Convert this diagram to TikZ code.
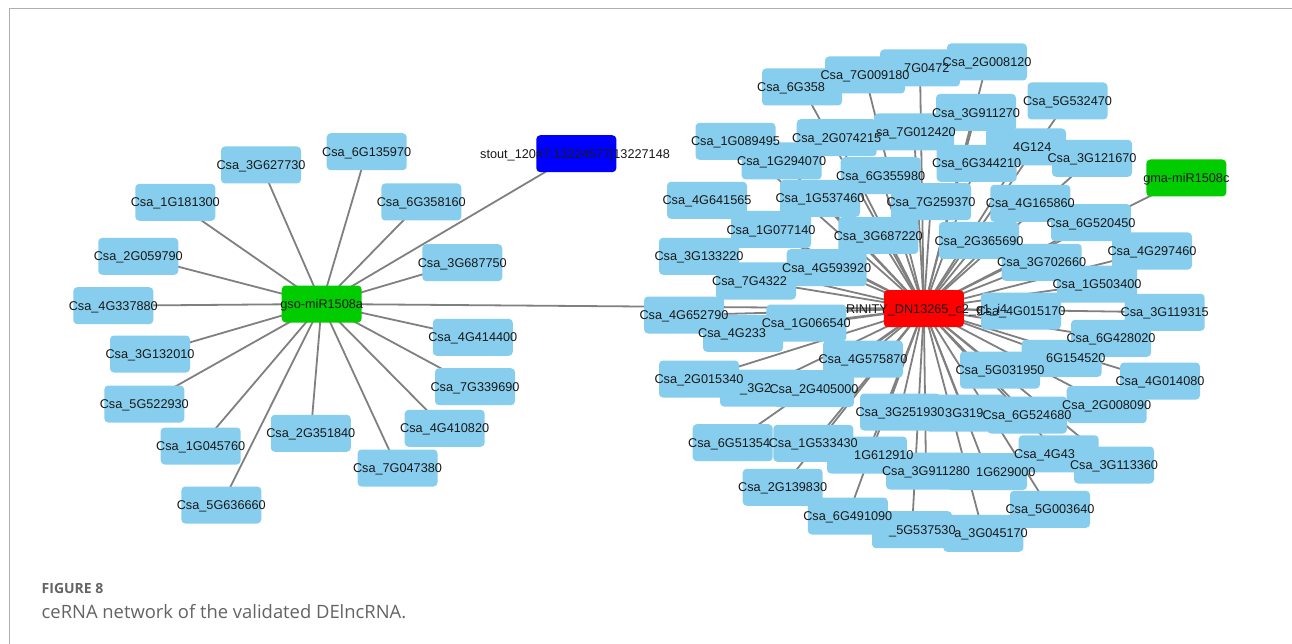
\documentclass[tikz,border=0pt]{standalone}
\usepackage{fontspec}
\setmainfont{Liberation Sans}
\newfontfamily\capfont{Open Sans}
\definecolor{leafblue}{RGB}{135,206,238}
\definecolor{hubgreen}{RGB}{0,204,0}
\definecolor{edgegray}{RGB}{128,128,128}
\definecolor{framegray}{RGB}{175,175,175}
\definecolor{capgray}{RGB}{100,100,100}
\pgfdeclarelayer{edges}
\pgfdeclarelayer{labels}
\pgfsetlayers{edges,main,labels}
\tikzset{
  leaf/.style={fill=leafblue, rounded corners=4pt, minimum width=80pt, minimum height=37pt, inner sep=0pt},
  hubg/.style={leaf, fill=hubgreen},
  hubr/.style={leaf, fill=red},
  hubb/.style={leaf, fill=blue},
  lbl/.style={font=\fontsize{12.7}{14}\selectfont, text=black!90, inner sep=0pt, text height=9.1pt, text depth=0pt},
  edge/.style={draw=edgegray, line width=1.8pt},
}
\newcommand\nodeF[5][leaf]{\node[#1] (#2) at (#3,#4) {};\begin{pgfonlayer}{labels}\node[lbl] (#2t) at (#2.center) {#5};\end{pgfonlayer}}
\newcommand\nodeW[6][leaf]{\node[#1] (#2) at (#3,#4) {};\begin{pgfonlayer}{labels}\node[lbl,anchor=west] (#2t) at (#5,#4) {#6};\end{pgfonlayer}}
\newcommand\nodeE[6][leaf]{\node[#1] (#2) at (#3,#4) {};\begin{pgfonlayer}{labels}\node[lbl,anchor=east] (#2t) at (#5,#4) {#6};\end{pgfonlayer}}
\begin{document}
\begin{tikzpicture}[x=1pt,y=-1pt]
\useasboundingbox (0,0) rectangle (1292,644);
\begin{pgfonlayer}{edges}
\fill[white] (0,0) rectangle (1292,644);
\end{pgfonlayer}
\draw[framegray, line width=1.5pt] (9.5,644) -- (9.5,8.5) -- (1292,8.5);

% left cluster
\nodeF[hubg]{gso}{321.7}{304}{gso-miR1508a}
\nodeF{l3G627730}{261}{165}{Csa\_3G627730}
\nodeF{l6G135970}{366.7}{151.7}{Csa\_6G135970}
\nodeF{l1G181300}{175.3}{202.3}{Csa\_1G181300}
\nodeF{l2G059790}{138.3}{256.3}{Csa\_2G059790}
\nodeF{l4G337880}{113.3}{305.7}{Csa\_4G337880}
\nodeF{l6G358160}{421.3}{202}{Csa\_6G358160}
\nodeF{l3G687750}{462.3}{262.7}{Csa\_3G687750}
\nodeW[hubb]{stout}{576.3}{153.7}{480}{stout\_120\#7:13224577|13227148}
\nodeF{l4G414400}{472.8}{337.3}{Csa\_4G414400}
\nodeF{l7G339690}{475}{386.7}{Csa\_7G339690}
\nodeF{l4G410820}{444.7}{428.3}{Csa\_4G410820}
\nodeF{l7G047380}{397.5}{468}{Csa\_7G047380}
\nodeF{l2G351840}{310.8}{433.3}{Csa\_2G351840}
\nodeF{l5G636660}{221.3}{505}{Csa\_5G636660}
\nodeF{l1G045760}{200.7}{446}{Csa\_1G045760}
\nodeF{l5G522930}{144.3}{404}{Csa\_5G522930}
\nodeF{l3G132010}{150}{354}{Csa\_3G132010}

% right cluster
\nodeW[hubr]{trin}{923.8}{308.7}{846}{RINITY\_DN13265\_c2\_g1\_i4}
\nodeF[hubg]{gma}{1186.3}{178}{gma-miR1508c}
\nodeW{r6G358}{802}{87}{757}{Csa\_6G358}
\nodeF{r7G009180}{865}{75}{Csa\_7G009180}
\nodeW{r7G0472}{920}{68}{904}{7G0472}
\nodeF{r2G008120}{987}{62}{Csa\_2G008120}
\nodeF{r3G911270}{976}{112.5}{Csa\_3G911270}
\nodeF{r5G532470}{1067.5}{101}{Csa\_5G532470}
\nodeF{r1G089495}{735.5}{141.3}{Csa\_1G089495}
\nodeF{r2G074215}{836.7}{137.7}{Csa\_2G074215}
\nodeE{r7G012420}{914}{132}{956}{sa\_7G012420}
\nodeW{r4G124}{1026}{147}{1013}{4G124}
\nodeF{r1G294070}{781.7}{161}{Csa\_1G294070}
\nodeF{r6G344210}{976.7}{163.3}{Csa\_6G344210}
\nodeF{r3G121670}{1092}{158.3}{Csa\_3G121670}
\nodeF{r6G355980}{880.7}{175.7}{Csa\_6G355980}
\nodeF{r4G641565}{707}{200.3}{Csa\_4G641565}
\nodeF{r1G537460}{820}{198.3}{Csa\_1G537460}
\nodeF{r7G259370}{931}{201.7}{Csa\_7G259370}
\nodeF{r6G520450}{1091}{222.7}{Csa\_6G520450}
\nodeF{r4G165860}{1030.3}{203.3}{Csa\_4G165860}
\nodeF{r1G077140}{771}{229.5}{Csa\_1G077140}
\nodeF{r3G687220}{878.3}{235.5}{Csa\_3G687220}
\nodeF{r2G365690}{979}{240.5}{Csa\_2G365690}
\nodeF{r3G133220}{699}{256.3}{Csa\_3G133220}
\nodeF{r4G593920}{826.7}{267.7}{Csa\_4G593920}
\nodeF{r4G297460}{1152}{251}{Csa\_4G297460}
\nodeW{r7G4322}{756}{281}{712}{Csa\_7G4322}
\nodeF{r1G503400}{1097}{284}{Csa\_1G503400}
\nodeF{r3G702660}{1041.7}{262.3}{Csa\_3G702660}
\nodeF{r4G652790}{684}{315}{Csa\_4G652790}
\nodeF{r4G015170}{1021}{311}{Csa\_4G015170}
\nodeF{r3G119315}{1164.7}{312.3}{Csa\_3G119315}
\nodeF{r1G066540}{806.3}{323}{Csa\_1G066540}
\nodeW{r4G233}{743}{333.3}{698}{Csa\_4G233}
\nodeF{r6G428020}{1111}{338.3}{Csa\_6G428020}
\nodeW{r6G154520}{1061.7}{358.3}{1046}{6G154520}
\nodeF{r5G031950}{1000}{370}{Csa\_5G031950}
\nodeF{r4G575870}{863}{359}{Csa\_4G575870}
\nodeF{r2G015340}{699}{379}{Csa\_2G015340}
\nodeW{r3G2}{760}{388}{740}{\_3G2}
\nodeF{r2G405000}{814}{388.5}{Csa\_2G405000}
\nodeF{r4G014080}{1160}{381}{Csa\_4G014080}
\nodeF{r3G251930}{900}{412}{Csa\_3G251930}
\nodeW{r3G319}{965}{413}{945}{3G319}
\nodeF{r2G008090}{1106.7}{404.7}{Csa\_2G008090}
\nodeF{r6G524680}{1027}{415}{Csa\_6G524680}
\nodeW{r6G51354}{732.7}{442.7}{688}{Csa\_6G51354}
\nodeF{r1G533430}{813.3}{443.3}{Csa\_1G533430}
\nodeW{r1G612910}{867}{455}{854}{1G612910}
\nodeW{r4G43}{1058.7}{453.8}{1014}{Csa\_4G43}
\nodeF{r3G113360}{1114}{465}{Csa\_3G113360}
\nodeF{r3G911280}{926}{471}{Csa\_3G911280}
\nodeW{r1G629000}{987}{471.5}{976}{1G629000}
\nodeF{r2G139830}{782.7}{487.3}{Csa\_2G139830}
\nodeF{r5G003640}{1050}{509.3}{Csa\_5G003640}
\nodeF{r6G491090}{847.8}{516}{Csa\_6G491090}
\nodeW{r5G537530}{912}{529.7}{889}{\_5G537530}
\nodeE{r3G045170}{983.3}{533.3}{1028}{a\_3G045170}

\begin{pgfonlayer}{edges}
\foreach \n in {l3G627730,l6G135970,l1G181300,l2G059790,l4G337880,l6G358160,l3G687750,stout,l4G414400,l7G339690,l4G410820,l7G047380,l2G351840,l5G636660,l1G045760,l5G522930,l3G132010,trin}
  \draw[edge] (gso.center) -- (\n.center);
\foreach \n in {gma,r6G358,r7G009180,r7G0472,r2G008120,r3G911270,r5G532470,r1G089495,r2G074215,r7G012420,r4G124,r1G294070,r6G344210,r3G121670,r6G355980,r4G641565,r1G537460,r7G259370,r6G520450,r4G165860,r1G077140,r3G687220,r2G365690,r3G133220,r4G593920,r4G297460,r7G4322,r1G503400,r3G702660,r4G652790,r4G015170,r3G119315,r1G066540,r4G233,r6G428020,r6G154520,r5G031950,r4G575870,r2G015340,r3G2,r2G405000,r4G014080,r3G251930,r3G319,r2G008090,r6G524680,r6G51354,r1G533430,r1G612910,r4G43,r3G113360,r3G911280,r1G629000,r2G139830,r5G003640,r6G491090,r5G537530,r3G045170}
  \draw[edge] (trin.center) -- (\n.center);
\end{pgfonlayer}

\node[anchor=west, font=\capfont\bfseries\fontsize{14}{16}\selectfont, text=capgray, inner sep=0pt] (figlbl) at (41.5,588) {FIGURE 8};
\node[anchor=west, font=\capfont\fontsize{18.4}{21}\selectfont, text=capgray, inner sep=0pt] (caption) at (41.5,612) {ceRNA network of the validated DElncRNA.};
\end{tikzpicture}
\end{document}
